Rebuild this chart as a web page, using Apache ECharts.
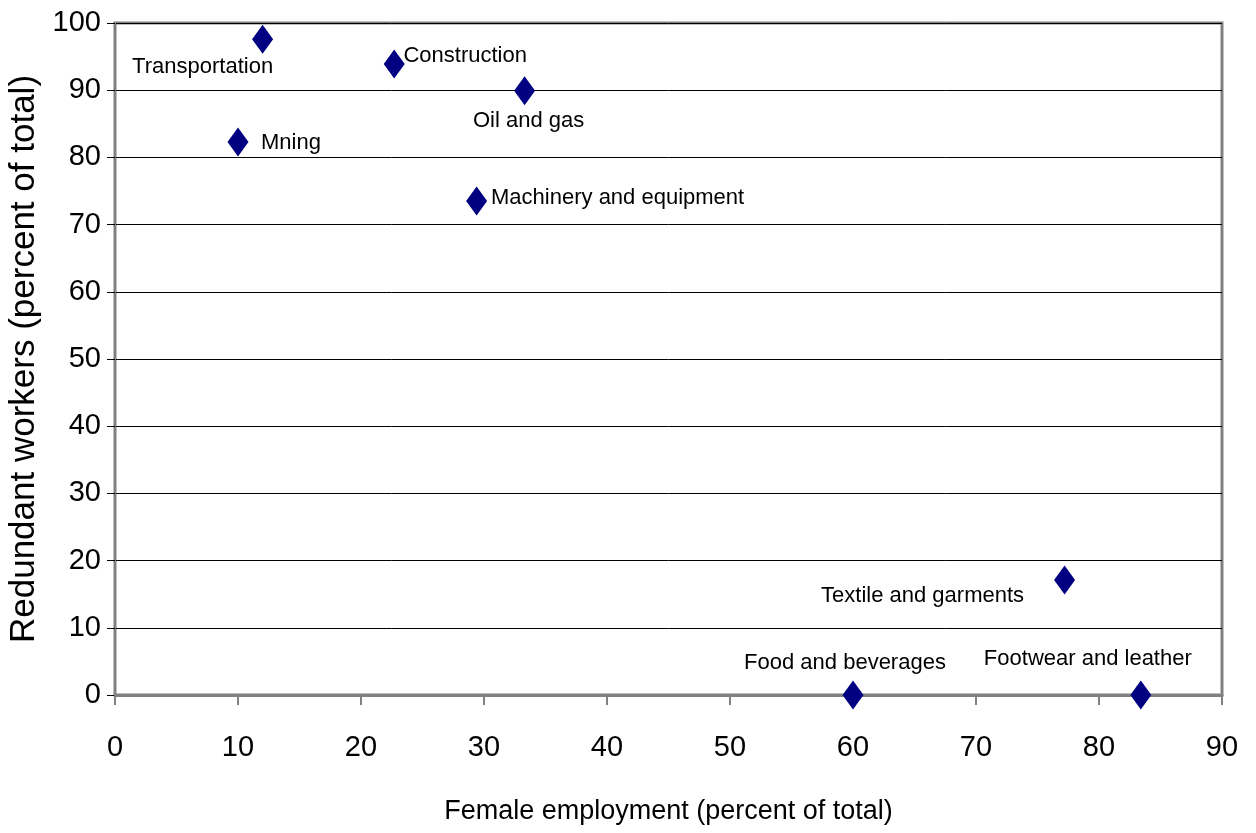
<!DOCTYPE html>
<html>
<head>
<meta charset="utf-8">
<script src="https://cdn.jsdelivr.net/npm/echarts@6/dist/echarts.min.js"></script>
<style>
	html, body { margin: 0; padding: 0; background: #fff; }
	#main { width: 1256px; height: 833px; }
</style>
</head>
<body>
<div id="main"></div>
<script>
	// sectors, female employment (x) and redundant workers (y), both percent of total
	var sectors = ['Transportation', 'Construction', 'Oil and gas', 'Mining', 'Machinery and equipment',
		'Textile and garments', 'Food and beverages', 'Footwear and leather'];
	var sectorLabels = ['Transportation', 'Construction', 'Oil and gas', 'Mning', 'Machinery and equipment',
		'Textile and garments', 'Food and beverages', 'Footwear and leather'];
	var femaleEmployment = [12.0, 22.7, 33.3, 10.0, 29.4, 77.2, 60.0, 83.4];
	var redundantWorkers = [97.6, 93.9, 89.9, 82.3, 73.5, 17.1, 0, 0];
	var xTicks = [0, 10, 20, 30, 40, 50, 60, 70, 80, 90];
	var yTicks = [0, 10, 20, 30, 40, 50, 60, 70, 80, 90, 100];

	// label offsets from the marker centre (px)
	var labelOffsets = {
		'Transportation': [-60, 28],
		'Construction': [71, -8],
		'Oil and gas': [4, 30],
		'Mining': [53, 1],
		'Machinery and equipment': [141, -3],
		'Textile and garments': [-142, 16],
		'Food and beverages': [-8, -32],
		'Footwear and leather': [-53, -36]
	};

	var font = "'Liberation Sans', Arial, sans-serif";
	var points = sectors.map(function (s, i) {
		return {
			name: s,
			value: [femaleEmployment[i], redundantWorkers[i]],
			label: { formatter: sectorLabels[i], offset: labelOffsets[s] }
		};
	});

	var myChart = echarts.init(document.getElementById('main'));
	var option = {
		animation: false,
		grid: {
			left: 115, right: 34, top: 23, bottom: 138,
			outerBoundsMode: 'none',
			containLabel: false,
			show: true, borderColor: '#808080', borderWidth: 3, backgroundColor: '#fff'
		},
		xAxis: {
			type: 'value',
			min: xTicks[0], max: xTicks[xTicks.length - 1], interval: 10,
			name: 'Female employment (percent of total)',
			nameLocation: 'middle', nameGap: 103,
			nameTextStyle: { fontFamily: font, fontSize: 27, color: '#000' },
			axisLine: { show: true, onZero: false, lineStyle: { color: '#808080', width: 3 } },
			axisTick: { show: true, length: 10, lineStyle: { color: '#808080', width: 2 } },
			axisLabel: { fontFamily: font, fontSize: 29, color: '#000', margin: 38 },
			splitLine: { show: false }
		},
		yAxis: {
			type: 'value',
			min: yTicks[0], max: yTicks[yTicks.length - 1], interval: 10,
			name: 'Redundant workers (percent of total)',
			nameLocation: 'middle', nameGap: 67,
			nameTextStyle: { fontFamily: font, fontSize: 35, color: '#000' },
			axisLine: { show: true, onZero: false, lineStyle: { color: '#808080', width: 2 } },
			axisTick: { show: true, length: 8, lineStyle: { color: '#000', width: 1 } },
			axisLabel: { fontFamily: font, fontSize: 29, color: '#000', margin: 14 },
			splitLine: { show: true, lineStyle: { color: '#000', width: 1 } }
		},
		series: [{
			type: 'scatter',
			symbol: 'diamond',
			symbolSize: [21, 29],
			itemStyle: { color: '#000080', opacity: 1 },
			label: {
				show: true,
				position: 'inside',
				color: '#000',
				textBorderWidth: 0,
				fontFamily: font,
				fontSize: 22
			},
			data: points,
			z: 5
		}]
	};
	myChart.setOption(option);
	window.addEventListener('resize', function () { myChart.resize(); });
</script>
</body>
</html>
